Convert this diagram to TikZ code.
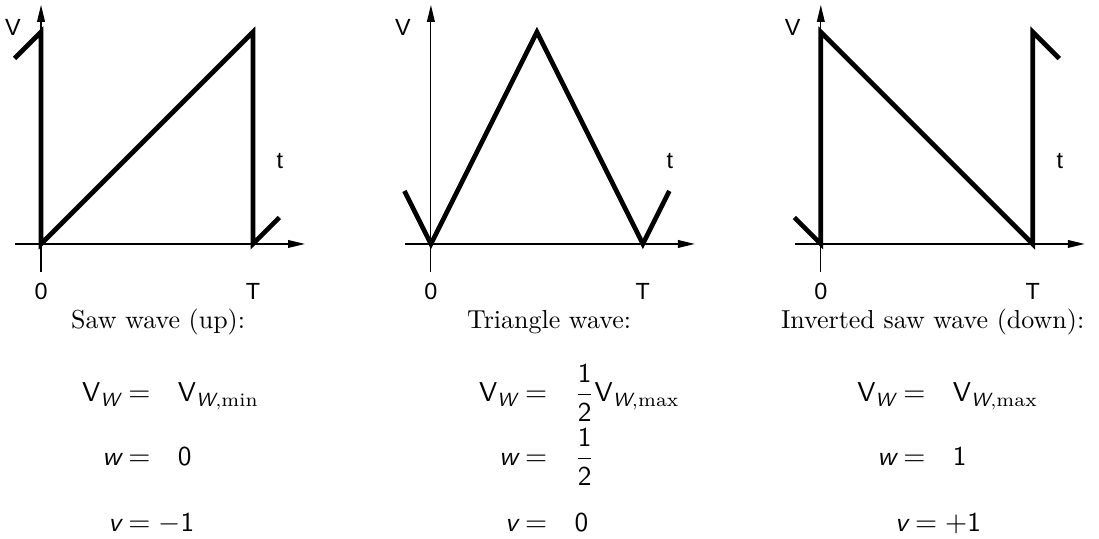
\documentclass[tikz,border=0pt]{standalone}
\usepackage{amsmath}
\usepackage{fontspec}
\usepackage{tikz}
\usetikzlibrary{arrows.meta}
\newfontfamily\axisfont{Liberation Sans}
\newcommand{\Vw}{\mathsf{V}_{\textsf{\itshape W}}}
\newcommand{\Vwx}[1]{\mathsf{V}_{\textsf{\itshape W},\mathrm{#1}}}
\newcommand{\sfit}[1]{\textsf{\itshape #1}}

\begin{document}
\begin{tikzpicture}[x=0.717cm, y=0.717cm, >={Triangle[length=6.5pt,width=3pt]},
  axis/.style={->, line width=0.45pt},
  wave/.style={line width=1.8pt},
  lbl/.style={font=\axisfont\fontsize{9}{10}\selectfont, inner sep=0pt},
  caption/.style={anchor=base, inner sep=0pt},
  lhs/.style={anchor=base east, inner sep=0pt, xshift=-2.5pt, font=\fontsize{10.5}{12}\selectfont},
  rhs/.style={anchor=base west, inner sep=0pt, font=\fontsize{10.5}{12}\selectfont}]
  \useasboundingbox (0,0) rectangle (20.74,10.17);

  % ===== Saw wave (up) =====
  \begin{scope}[shift={(0.774,5.566)}]
    % Axes
    \draw[axis] (-0.49,0) -- (4.98,0);
    \draw[axis] (0,-0.53) -- (0,4.51);
    \node[lbl] (p1v) at (-0.53,4.09) {V};
    \node[lbl] (p1t) at (4.51,1.57) {t};
    \node[lbl] (p1zero) at (0,-0.89) {0};
    \node[lbl] (p1T) at (4,-0.89) {T};

    % Wave
    \draw[wave] (-0.5,3.5) -- (0,4) -- (0,0) -- (4,4) -- (4,0) -- (4.5,0.5);

    \node[caption] (p1cap) at (2.21,-1.60) {Saw wave (up):};
    \node[lhs] (p1l1) at (1.64,-2.98) {$\Vw$};
    \node[rhs] (p1r1) at (1.64,-2.98) {$=\hspace{7.5pt}\Vwx{min}$};
    \node[lhs] (p1l2) at (1.64,-4.19) {$\sfit{w}$};
    \node[rhs] (p1r2) at (1.64,-4.19) {$=\hspace{7.5pt}\mathsf{0}$};
    \node[lhs] (p1l3) at (1.64,-5.42) {$\sfit{v}$};
    \node[rhs] (p1r3) at (1.64,-5.42) {$=-\mathsf{1}$};
  \end{scope}

  % ===== Triangle wave =====
  \begin{scope}[shift={(8.132,5.566)}]
    % Axes
    \draw[axis] (-0.49,0) -- (4.98,0);
    \draw[axis] (0,-0.53) -- (0,4.51);
    \node[lbl] (p2v) at (-0.53,4.09) {V};
    \node[lbl] (p2t) at (4.51,1.57) {t};
    \node[lbl] (p2zero) at (0,-0.89) {0};
    \node[lbl] (p2T) at (4,-0.89) {T};

    % Wave
    \draw[wave] (-0.5,1) -- (0,0) -- (2,4) -- (4,0) -- (4.5,1);

    \node[caption] (p2cap) at (2.23,-1.60) {Triangle wave:};
    \node[lhs] (p2l1) at (1.77,-2.98) {$\Vw$};
    \node[rhs] (p2r1) at (1.77,-2.98) {$=\hspace{7.5pt}\dfrac{\mathsf{1}}{\mathsf{2}}\Vwx{max}$};
    \node[lhs] (p2l2) at (1.77,-4.19) {$\sfit{w}$};
    \node[rhs] (p2r2) at (1.77,-4.19) {$=\hspace{7.5pt}\dfrac{\mathsf{1}}{\mathsf{2}}$};
    \node[lhs] (p2l3) at (1.77,-5.42) {$\sfit{v}$};
    \node[rhs] (p2r3) at (1.77,-5.42) {$=\hspace{7.5pt}\mathsf{0}$};
  \end{scope}

  % ===== Inverted saw wave (down) =====
  \begin{scope}[shift={(15.49,5.566)}]
    % Axes
    \draw[axis] (-0.49,0) -- (4.98,0);
    \draw[axis] (0,-0.53) -- (0,4.51);
    \node[lbl] (p3v) at (-0.53,4.09) {V};
    \node[lbl] (p3t) at (4.51,1.57) {t};
    \node[lbl] (p3zero) at (0,-0.89) {0};
    \node[lbl] (p3T) at (4,-0.89) {T};

    % Wave
    \draw[wave] (-0.5,0.5) -- (0,0) -- (0,4) -- (4,0) -- (4,4) -- (4.5,3.5);

    \node[caption] (p3cap) at (2.11,-1.60) {Inverted saw wave (down):};
    \node[lhs] (p3l1) at (1.55,-2.98) {$\Vw$};
    \node[rhs] (p3r1) at (1.55,-2.98) {$=\hspace{7.5pt}\Vwx{max}$};
    \node[lhs] (p3l2) at (1.55,-4.19) {$\sfit{w}$};
    \node[rhs] (p3r2) at (1.55,-4.19) {$=\hspace{7.5pt}\mathsf{1}$};
    \node[lhs] (p3l3) at (1.77,-5.42) {$\sfit{v}$};
    \node[rhs] (p3r3) at (1.77,-5.42) {$=+\mathsf{1}$};
  \end{scope}
\end{tikzpicture}
\end{document}
